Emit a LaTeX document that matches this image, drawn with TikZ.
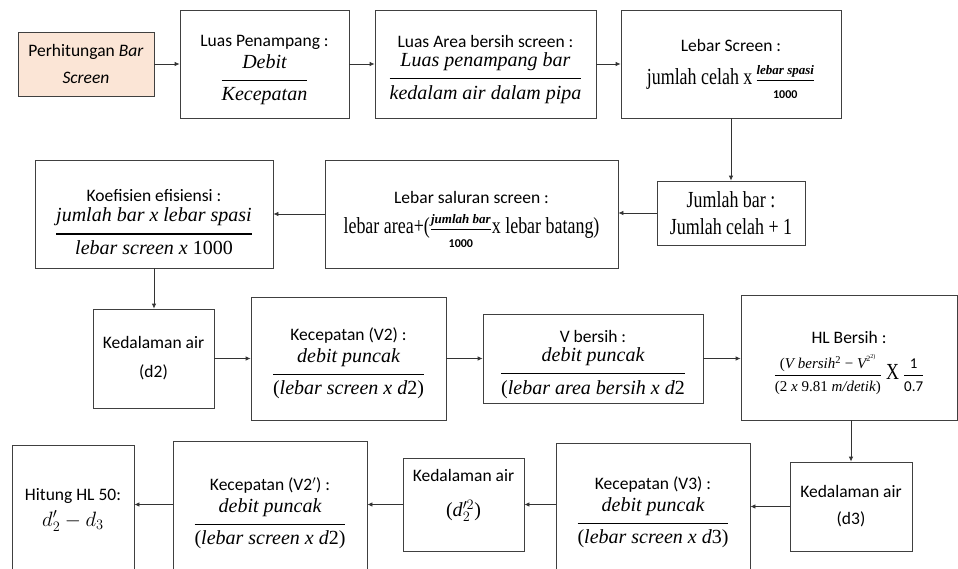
\documentclass[tikz,border=0pt]{standalone}
\usepackage{fontspec}
\usepackage{amsmath}
\setmainfont{Carlito}
\newfontfamily\cam{Liberation Serif}
\newfontfamily\tnr{Liberation Serif}[FakeStretch=0.78]
\usetikzlibrary{arrows.meta}
\newcommand\mt[1]{\text{\fontsize{20}{24}\selectfont\cam\itshape #1}}
\newcommand\bigfr[2]{$\genfrac{}{}{1.2pt}{0}{\rule[-8pt]{0pt}{8pt}\mt{#1}}{\rule{0pt}{16pt}\mt{#2}}$}
\newcommand\smfr[2]{$\genfrac{}{}{1pt}{1}{\rule[-5pt]{0pt}{5pt}\text{\fontsize{13}{14}\selectfont\cam\bfseries\itshape #1}}{\rule{0pt}{16pt}\text{\fontsize{12}{14}\selectfont\bfseries #2}}$}
\newcommand\tn[1]{{\fontsize{23}{26}\selectfont\tnr #1}}
\newcommand\tp[1]{\rule{0pt}{#1pt}}
\tikzset{
  box/.style={draw=black!75, line width=0.8pt, fill=white, inner sep=0pt, align=center,
    font=\fontsize{17.5}{27}\selectfont},
  arr/.style={draw=black!80, line width=0.8pt, -{Latex[length=5pt,width=4.5pt]}},
}
\definecolor{peach}{HTML}{FBE5D6}
\begin{document}
\begin{tikzpicture}[x=1pt,y=-1pt]
\useasboundingbox (0,0) rectangle (958,568);
\clip (0,0) rectangle (958,568);
\fill[white] (0,0) rectangle (958,568);
% row 1
\node[box, fill=peach, minimum width=136, minimum height=64] (b1) at (86,64)
  {Perhitungan \textit{Bar}\\ \textit{Screen}};
\node[box, minimum width=169, minimum height=108] (b2) at (264.5,64)
  {\tp{23}Luas Penampang :\\[4pt] \bigfr{Debit}{Kecepatan}};
\node[box, minimum width=221, minimum height=108] (b3) at (485.5,64)
  {\tp{23}Luas Area bersih screen :\\[4pt] \bigfr{Luas penampang bar}{kedalam air dalam pipa}};
\node[box, minimum width=220, minimum height=108] (b4) at (731,64)
  {\tp{22}Lebar Screen :\\[6pt] \tn{jumlah celah x}\,\smfr{lebar spasi}{1000}};
% row 2
\node[box, minimum width=148, minimum height=64] (b5) at (731,213)
  {\tp{17}\tn{Jumlah bar :}\\ \tn{Jumlah celah + 1}};
\node[box, minimum width=293, minimum height=108] (b6) at (471.5,214)
  {\tp{23}Lebar saluran screen :\\[3pt] \tn{lebar area+(}\smfr{jumlah bar}{1000}\tn{x lebar batang)}};
\node[box, minimum width=238, minimum height=108] (b7) at (154,214)
  {\tp{28}Koefisien efisiensi :\\[5pt] \bigfr{jumlah bar x lebar spasi}{lebar screen x {\upshape 1000}}};
% row 3
\node[box, minimum width=121, minimum height=99] (b8) at (153.5,358.5)
  {Kedalaman air\\[2pt] (d2)};
\node[box, minimum width=195, minimum height=123] (b9) at (348.5,358.5)
  {\tp{22}Kecepatan (V2) :\\[4pt] \bigfr{debit puncak}{{\upshape(}lebar screen x d{\upshape 2)}}};
\node[box, minimum width=220, minimum height=89] (b10) at (593,358.5)
  {\tp{24}V bersih :\\[4pt] \bigfr{debit puncak}{{\upshape(}lebar area bersih x d{\upshape 2}}};
\node[box, minimum width=216, minimum height=125] (b11) at (849,357.5)
  {\tp{24}HL Bersih :\\[9pt]
   $\displaystyle\frac{\text{\fontsize{15}{17}\selectfont\cam\itshape {\upshape(}V bersih\textsuperscript{\upshape 2} {\upshape −} V\raisebox{7pt}{\fontsize{8}{9}\selectfont\upshape 2\textsuperscript{2)}}}}{\rule{0pt}{13pt}\text{\fontsize{15}{17}\selectfont\cam (2 \textit{x} 9.81 \textit{m/detik})}}
   \ \text{\tn{X}}\ \frac{\text{\fontsize{15}{17}\selectfont 1}}{\rule{0pt}{13pt}\text{\fontsize{15}{17}\selectfont 0.7}}$};
% row 4
\node[box, minimum width=122, minimum height=89] (b12) at (851,506.5)
  {Kedalaman air\\ (d3)};
\node[box, minimum width=194, minimum height=132] (b13) at (653,509)
  {\tp{20}Kecepatan (V3) :\\[4pt] \bigfr{debit puncak}{{\upshape(}lebar screen x d{\upshape 3)}}};
\node[box, minimum width=121, minimum height=93] (b14) at (463.5,504.5)
  {Kedalaman air\\[8pt] {\fontsize{20}{24}\selectfont\cam(\textit{d}$^{\prime 2}_{2}$)}\rule[-23pt]{0pt}{0pt}};
\node[box, minimum width=194, minimum height=134] (b15) at (270,508)
  {\tp{23}Kecepatan (V2$'$) :\\[4pt] \bigfr{debit puncak}{{\upshape(}lebar screen x d{\upshape 2)}}};
\node[box, minimum width=122, minimum height=130] (b16) at (73,510)
  {Hitung HL 50:\\[-1pt] {\fontsize{21}{24}\selectfont $d_2'-d_3$}};
% connectors
\draw[arr] (b1.east) -- (b2.west);
\draw[arr] (b2.east) -- (b3.west);
\draw[arr] (b3.east) -- (b4.west);
\draw[arr] (b4.south) -- (b5.north);
\draw[arr] (b5.west) -- (b5.west -| b6.east);
\draw[arr] (b6.west) -- (b6.west -| b7.east);
\draw[arr] (b7.south) -- (b7.south |- b8.north);
\draw[arr] (b8.east) -- (b8.east -| b9.west);
\draw[arr] (b9.east) -- (b9.east -| b10.west);
\draw[arr] (b10.east) -- (b10.east -| b11.west);
\draw[arr] (b12.north |- b11.south) -- (b12.north);
\draw[arr] (b12.west) -- (b12.west -| b13.east);
\draw[arr] (b13.west |- b14.east) -- (b14.east);
\draw[arr] (b14.west) -- (b14.west -| b15.east);
\coordinate (a16) at (b15.west |- b14.west);
\draw[arr] (a16) -- (a16 -| b16.east);
\end{tikzpicture}
\end{document}
